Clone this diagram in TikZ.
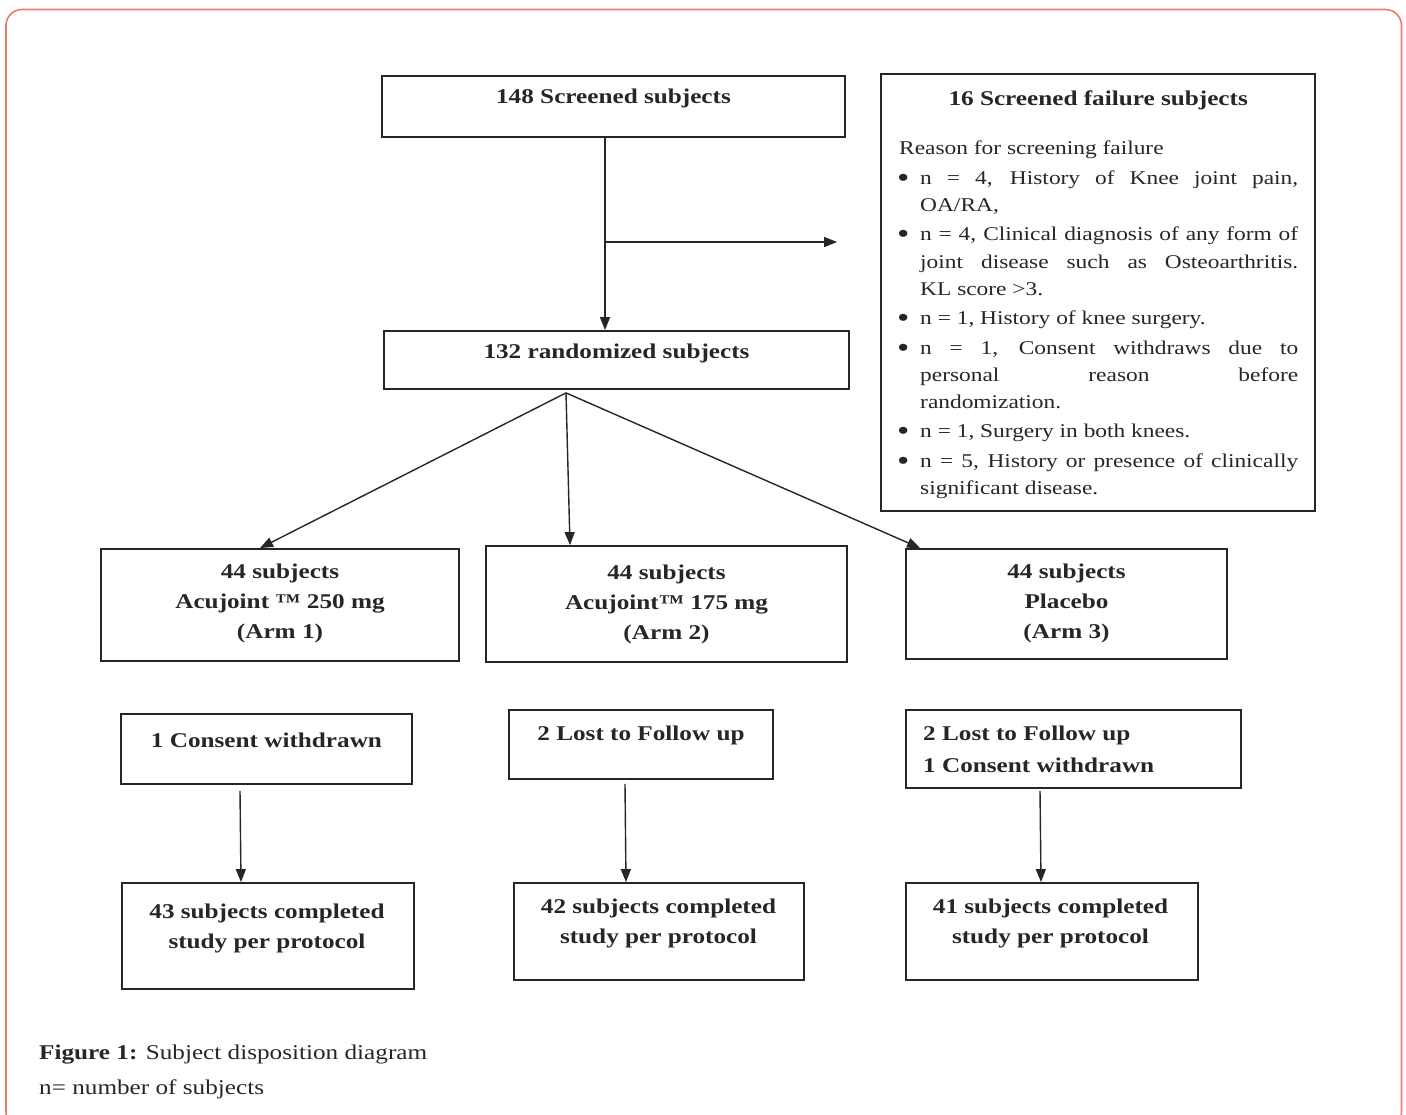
\documentclass[tikz,border=0pt]{standalone}
\usepackage{fontspec}
\setmainfont[FakeStretch=1.2]{Liberation Serif}
\usetikzlibrary{arrows.meta,calc}

\definecolor{framered}{RGB}{242,120,106}
\definecolor{ink}{RGB}{38,38,38}

\newcommand{\boxfont}{\fontsize{21}{30}\selectfont\bfseries}
\newcommand{\listfont}{\fontsize{19.5}{27.3}\selectfont}
\newcommand{\capfont}{\fontsize{21}{34}\selectfont}
\newcommand{\bul}{\par\vspace{2pt}\noindent\hangindent=22pt\hangafter=1\makebox[22pt][l]{\hspace{-1pt}\raisebox{-3pt}{\scalebox{1.5}{\textbullet}}}}

\begin{document}
\begin{tikzpicture}[x=1pt,y=-1pt,
  box/.style={draw=ink, line width=1.8, inner sep=0},
  txt/.style={font=\boxfont, text=ink, align=center, inner sep=0},
  link/.style={draw=ink, line width=1.4, -{Triangle[length=13,width=10]}}]

  \useasboundingbox (0,0) rectangle (1406,1115);
  \draw[framered, line width=1.6, rounded corners=16] (6,9.5) rectangle (1401.5,1128);

  % screening
  \node[box, minimum width=463, minimum height=61] (scr) at (613.5,106.5) {};
  \node[txt] (scrT) at (613.5,98) {148 Screened subjects};

  \node[box, minimum width=434, minimum height=437] (fail) at (1098,292.5) {};
  \node[anchor=north west, inner sep=0, text width=400, align=justify, font=\listfont, text=ink] (failT) at (898,91) {%
    {\centering\boxfont 16 Screened failure subjects\par}
    \vspace{21.7pt}
    \noindent\hspace{1pt}Reason for screening failure\par
    \bul n = 4, History of Knee joint pain,\linebreak OA/RA,
    \bul n = 4, Clinical diagnosis of any form of\linebreak joint disease such as Osteoarthritis.\linebreak KL score >3.
    \bul n = 1, History of knee surgery.
    \bul n = 1, Consent withdraws due to\linebreak personal reason before\linebreak randomization.
    \bul n = 1, Surgery in both knees.
    \bul n = 5, History or presence of clinically\linebreak significant disease.\par};

  \node[box, minimum width=465, minimum height=58] (rnd) at (616.5,360) {};
  \node[txt] (rndT) at (616.5,353) {132 randomized subjects};

  % arms
  \node[box, minimum width=358, minimum height=112] (arm1) at (280,605) {};
  \node[txt] (arm1T) at (280,603) {44 subjects\\Acujoint ™ 250 mg\\(Arm 1)};
  \node[box, minimum width=361, minimum height=116] (arm2) at (666.5,604) {};
  \node[txt] (arm2T) at (666.5,604) {44 subjects\\Acujoint™ 175 mg\\(Arm 2)};
  \node[box, minimum width=321, minimum height=110] (arm3) at (1066.5,604) {};
  \node[txt] (arm3T) at (1066.5,603) {44 subjects\\Placebo\\(Arm 3)};

  % withdrawals
  \node[box, minimum width=291, minimum height=70] (wd1) at (266.5,749) {};
  \node[txt] (wd1T) at (266.5,740) {1 Consent withdrawn};
  \node[box, minimum width=264, minimum height=69] (wd2) at (641,744.5) {};
  \node[txt] (wd2T) at (641,735) {2 Lost to Follow up};
  \node[box, minimum width=335, minimum height=78] (wd3) at (1073.5,749) {};
  \node[txt, align=left, anchor=west, font=\fontsize{21}{32}\selectfont\bfseries] (wd3T) at (923,749) {2 Lost to Follow up\\1 Consent withdrawn};

  % completed
  \node[box, minimum width=292, minimum height=106] (cmp1) at (268,936) {};
  \node[txt] (cmp1T) at (267,928) {43 subjects completed\\study per protocol};
  \node[box, minimum width=290, minimum height=97] (cmp2) at (659,931.5) {};
  \node[txt] (cmp2T) at (658.5,923) {42 subjects completed\\study per protocol};
  \node[box, minimum width=292, minimum height=97] (cmp3) at (1052,931.5) {};
  \node[txt] (cmp3T) at (1050.5,923) {41 subjects completed\\study per protocol};

  % connectors
  \draw[link] ([xshift=-8.5]scr.south) -- ([xshift=-8.5]scr.south |- rnd.north);
  \coordinate (fork) at (605,242);
  \draw[link] (fork) -- ([xshift=-43]fork -| fail.west);
  \draw[link] ([xshift=-50.5,yshift=-3]rnd.south) -- ([xshift=-20]arm1.north);
  \draw[link] ([xshift=-50.5,yshift=-3]rnd.south) -- ([xshift=-96.5]arm2.north);
  \draw[link] ([xshift=-50.5,yshift=-3]rnd.south) -- ([xshift=15]arm3.north west);
  \draw[link] ([xshift=-26.5,yshift=-6]wd1.south) -- ([xshift=-27]cmp1.north);
  \draw[link] ([xshift=-16,yshift=-4]wd2.south) -- ([xshift=-33]cmp2.north);
  \draw[link] ([xshift=-33.5,yshift=-2]wd3.south) -- ([xshift=-11]cmp3.north);

  % caption
  \node[anchor=west, inner sep=0, font=\capfont, text=ink] (cap1) at (39,1055) {\textbf{Figure 1:} Subject disposition diagram};
  \node[anchor=west, inner sep=0, font=\capfont, text=ink] (cap2) at (39,1089) {n= number of subjects};
\end{tikzpicture}
\end{document}
